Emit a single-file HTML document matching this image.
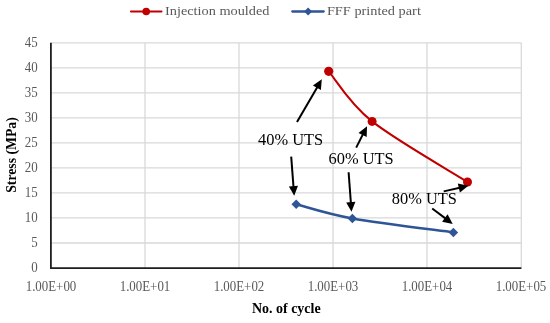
<!DOCTYPE html>
<html><head><meta charset="utf-8">
<style>
html,body{margin:0;padding:0;background:#fff;}
body{width:550px;height:323px;overflow:hidden;}
svg{display:block;will-change:transform;}
text{font-family:"Liberation Serif",serif;}
</style></head>
<body>
<svg width="550" height="323" viewBox="0 0 550 323">
<rect x="0" y="0" width="550" height="323" fill="#fff"/>
<!-- gridlines -->
<g stroke="#d9d9d9" stroke-width="1.3" fill="none">
<path d="M51 242.98H521.2M51 217.96H521.2M51 192.94H521.2M51 167.92H521.2M51 142.90H521.2M51 117.88H521.2M51 92.86H521.2M51 67.84H521.2M51 42.82H521.2"/>
<path d="M145 42.8V268M239 42.8V268M333 42.8V268M427 42.8V268M521.3 42.8V268"/>
</g>
<!-- axes -->
<g stroke="#1e1e1e" stroke-width="1.8" fill="none">
<path d="M50.9 42.8V268.9M50 268.1H521.4"/>
</g>
<!-- y tick labels -->
<g fill="#595959" font-size="13.6" text-anchor="end" id="yt">
<text x="37.6" y="272.00" textLength="6.45" lengthAdjust="spacingAndGlyphs">0</text>
<text x="37.6" y="246.98" textLength="6.45" lengthAdjust="spacingAndGlyphs">5</text>
<text x="37.6" y="221.96" textLength="12.90" lengthAdjust="spacingAndGlyphs">10</text>
<text x="37.6" y="196.94" textLength="12.90" lengthAdjust="spacingAndGlyphs">15</text>
<text x="37.6" y="171.92" textLength="12.90" lengthAdjust="spacingAndGlyphs">20</text>
<text x="37.6" y="146.90" textLength="12.90" lengthAdjust="spacingAndGlyphs">25</text>
<text x="37.6" y="121.88" textLength="12.90" lengthAdjust="spacingAndGlyphs">30</text>
<text x="37.6" y="96.86" textLength="12.90" lengthAdjust="spacingAndGlyphs">35</text>
<text x="37.6" y="71.84" textLength="12.90" lengthAdjust="spacingAndGlyphs">40</text>
<text x="37.6" y="46.82" textLength="12.90" lengthAdjust="spacingAndGlyphs">45</text>
</g>
<!-- x tick labels -->
<g fill="#595959" font-size="13.6" text-anchor="middle" id="xt">
<text x="51" y="290.9" textLength="50.6" lengthAdjust="spacingAndGlyphs">1.00E+00</text>
<text x="145" y="290.9" textLength="50.6" lengthAdjust="spacingAndGlyphs">1.00E+01</text>
<text x="239" y="290.9" textLength="50.6" lengthAdjust="spacingAndGlyphs">1.00E+02</text>
<text x="333" y="290.9" textLength="50.6" lengthAdjust="spacingAndGlyphs">1.00E+03</text>
<text x="427" y="290.9" textLength="50.6" lengthAdjust="spacingAndGlyphs">1.00E+04</text>
<text x="521" y="290.9" textLength="50.6" lengthAdjust="spacingAndGlyphs">1.00E+05</text>
</g>
<!-- axis titles -->
<text id="xtitle" x="286.3" y="313.2" font-size="13.9" textLength="68.8" lengthAdjust="spacingAndGlyphs" font-weight="bold" text-anchor="middle" fill="#000">No. of cycle</text>
<text id="ytitle" transform="translate(15.6 155) rotate(-90)" font-size="13.6" textLength="75.5" lengthAdjust="spacingAndGlyphs" font-weight="bold" text-anchor="middle" fill="#000">Stress (MPa)</text>
<!-- legend -->
<g id="leg">
<path d="M130.9 11.5H161.6" stroke="#c00000" stroke-width="1.8" stroke-linecap="round"/>
<circle cx="146.2" cy="11.5" r="3.8" fill="#c00000"/>
<text x="165" y="15.15" font-size="13.4" textLength="104.5" lengthAdjust="spacingAndGlyphs" fill="#595959">Injection moulded</text>
<path d="M292.3 11.5H323.7" stroke="#2f5597" stroke-width="2.3" stroke-linecap="round"/>
<path d="M308.1 7.5L312.1 11.5L308.1 15.5L304.1 11.5Z" fill="#2f5597"/>
<text x="326.9" y="15.15" font-size="13.4" textLength="94" lengthAdjust="spacingAndGlyphs" fill="#595959">FFF printed part</text>
</g>
<!-- series -->
<path d="M328.7 71.3C335.9 79.65 348.95 103.03 372.1 121.4C395.25 139.77 451.7 171.9 467.5 182" stroke="#c00000" stroke-width="2" fill="none"/>
<circle cx="328.7" cy="71.3" r="4.6" fill="#c00000"/>
<circle cx="372.1" cy="121.4" r="4.5" fill="#c00000"/>
<circle cx="467.5" cy="182" r="4.5" fill="#c00000"/>
<path d="M296.2 204.3C305.57 206.66 326.20 213.8 352.4 218.5C378.60 223.2 436.57 230.1 453.4 232.4" stroke="#2f5597" stroke-width="2.5" fill="none" stroke-linejoin="round"/>
<path d="M296.20 199.55L300.95 204.30L296.20 209.05L291.45 204.30Z" fill="#2f5597"/>
<path d="M352.40 213.75L357.15 218.50L352.40 223.25L347.65 218.50Z" fill="#2f5597"/>
<path d="M453.40 227.65L458.15 232.40L453.40 237.15L448.65 232.40Z" fill="#2f5597"/>
<!-- annotations -->
<g fill="#000" font-size="16.4">
<text x="258" y="145">40% UTS</text>
<text x="328.6" y="164.2">60% UTS</text>
<text x="391.8" y="204.2">80% UTS</text>
</g>
<g id="arrows">
<path d="M297.0 122.0L317.4 86.9" stroke="#000" stroke-width="2" fill="none"/>
<path d="M321.8 79.3L320.9 90.1L312.9 85.5Z" fill="#000"/>
<path d="M291.2 156.6L293.5 187.0" stroke="#000" stroke-width="2" fill="none"/>
<path d="M294.2 195.8L288.9 186.4L298.0 185.7Z" fill="#000"/>
<path d="M356.2 147.6L363.0 134.1" stroke="#000" stroke-width="2" fill="none"/>
<path d="M367.0 126.3L366.7 137.1L358.5 133.0Z" fill="#000"/>
<path d="M348.6 172.2L350.9 203.0" stroke="#000" stroke-width="2" fill="none"/>
<path d="M351.5 211.8L346.2 202.4L355.4 201.7Z" fill="#000"/>
<path d="M443.7 191.4L459.8 187.7" stroke="#000" stroke-width="2" fill="none"/>
<path d="M468.4 185.7L459.9 192.4L457.8 183.4Z" fill="#000"/>
<path d="M432.2 208.5L445.7 218.6" stroke="#000" stroke-width="2" fill="none"/>
<path d="M452.7 223.9L442.1 221.7L447.6 214.3Z" fill="#000"/>
</g>
</svg>
</body></html>
